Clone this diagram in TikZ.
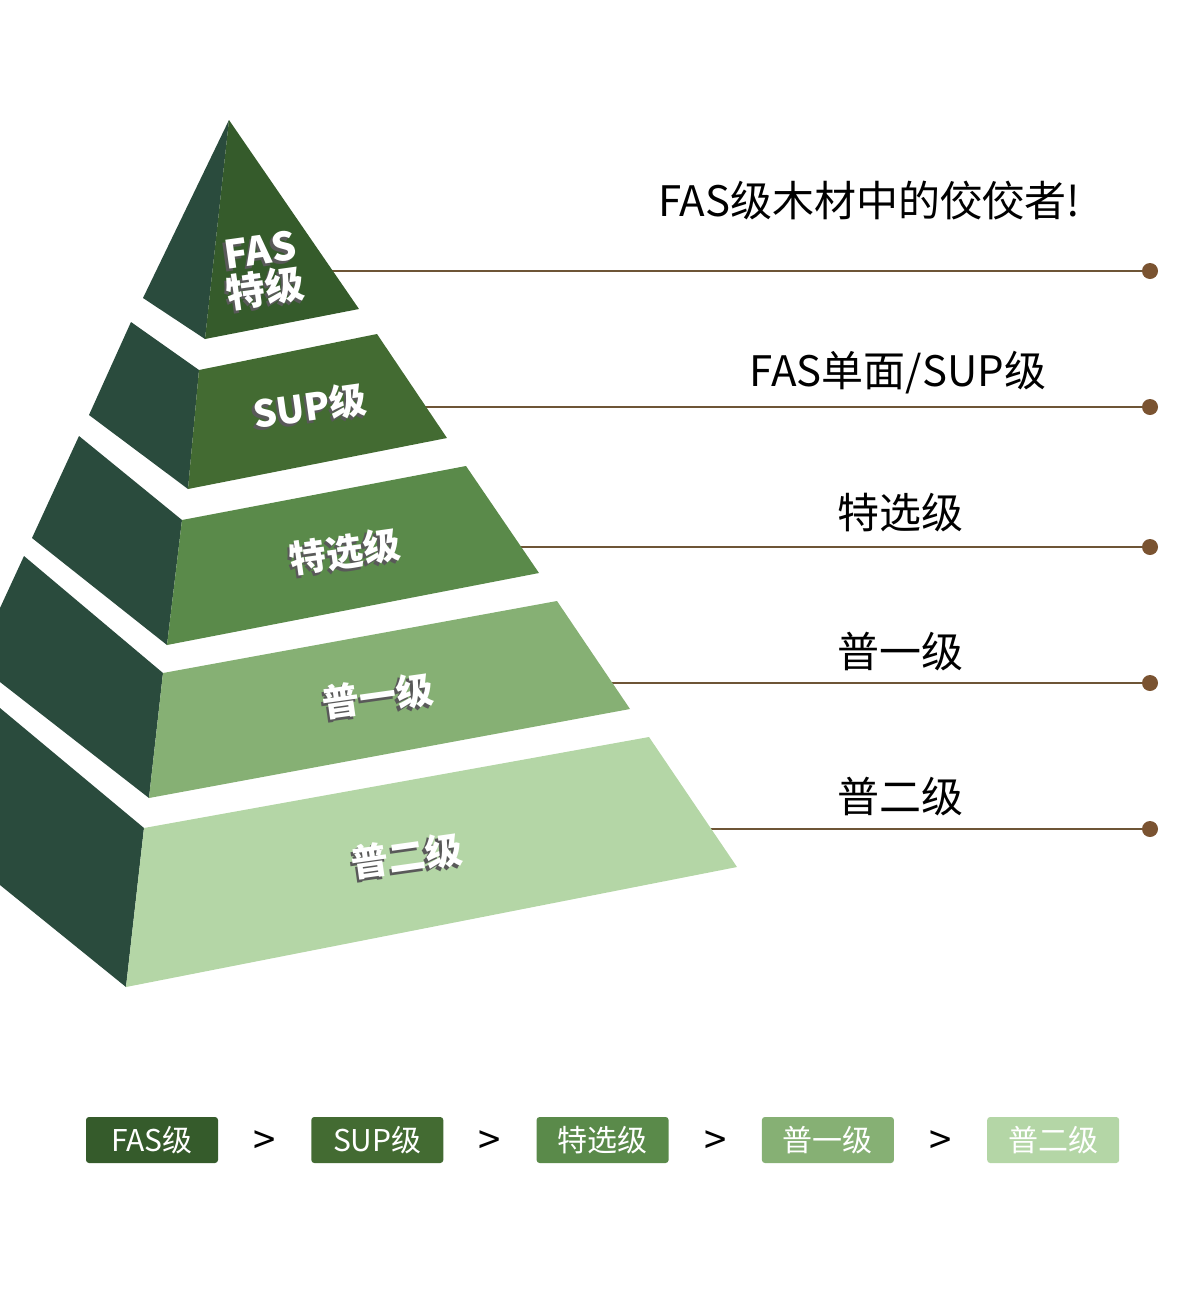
\documentclass[tikz,border=0pt]{standalone}
\usepackage{fontspec}
\setmainfont{Noto Sans CJK SC}
\usetikzlibrary{positioning, calc}

\definecolor{sidegreen}{HTML}{2A4B3D}
\definecolor{tierA}{HTML}{355B2B}
\definecolor{tierB}{HTML}{436B32}
\definecolor{tierC}{HTML}{5A8A4A}
\definecolor{tierD}{HTML}{86B074}
\definecolor{tierE}{HTML}{B4D6A6}
\definecolor{lineBrown}{HTML}{6E5536}
\definecolor{dotBrown}{HTML}{7A5331}

% white text with a dark drop shadow
\newcommand{\tiertext}[1]{\makebox[0pt][l]{\hspace{-1.3pt}\raisebox{-1.3pt}{\color{black!65}#1}}#1}

\begin{document}
\begin{tikzpicture}[
        x=0.5pt, y=-0.5pt,
        side/.style={fill=sidegreen},
        tierlabel/.style={text=white, rotate=8, align=center, inner sep=0pt, font=\bfseries\fontsize{18.5}{18}\selectfont},
        remark/.style={font=\fontsize{21}{24}\selectfont},
        dot/.style={circle, fill=dotBrown, inner sep=0pt, minimum size=8pt},
        leader/.style={draw=lineBrown, line width=0.7pt},
        gradebox/.style={rounded corners=1.5pt, minimum width=66pt, minimum height=23pt, inner sep=0pt, text=white, font=\fontsize{15}{18}\selectfont},
        gt/.style={font=\fontsize{20}{20}\selectfont, yshift=-1.5pt}
    ]
    \useasboundingbox (0,0) rectangle (1200,1291);

    % Leaders
    \coordinate (in1) at (300,271);
    \coordinate (in2) at (400,407);
    \coordinate (in3) at (480,547);
    \coordinate (in4) at (580,683);
    \coordinate (in5) at (690,829);
    \node [dot] (dot1) at (1150,271) {};
    \node [dot] (dot2) at (1150,407) {};
    \node [dot] (dot3) at (1150,547) {};
    \node [dot] (dot4) at (1150,683) {};
    \node [dot] (dot5) at (1150,829) {};
    \draw [leader] (in1) -- (dot1);
    \draw [leader] (in2) -- (dot2);
    \draw [leader] (in3) -- (dot3);
    \draw [leader] (in4) -- (dot4);
    \draw [leader] (in5) -- (dot5);

    % Pyramid
    \fill [side] (229,120) -- (205,339) -- (143,298) -- cycle;
    \fill [tierA] (229,120) -- (359,309) -- (205,339) -- cycle;
    \fill [side] (131,322) -- (199,370) -- (188,489) -- (89,415) -- cycle;
    \fill [tierB] (199,370) -- (377,334) -- (447,438) -- (188,489) -- cycle;
    \fill [side] (79,436) -- (182,520) -- (167,645) -- (32,538) -- cycle;
    \fill [tierC] (182,520) -- (466,466) -- (539,573) -- (167,645) -- cycle;
    \fill [side] (24,556) -- (163,673) -- (149,798) -- (0,682) -- (0,608) -- cycle;
    \fill [tierD] (163,673) -- (557,601) -- (630,709) -- (149,798) -- cycle;
    \fill [side] (0,708) -- (144,828) -- (126,987) -- (0,885) -- cycle;
    \fill [tierE] (144,828) -- (649,737) -- (737,867) -- (126,987) -- cycle;

    % Tier labels
    \node [tierlabel, font=\bfseries\fontsize{19.5}{17.5}\selectfont] (fas) at (263,272) {\tiertext{FAS}\\\tiertext{特级}};
    \node [tierlabel] (sup) at (310,408) {\tiertext{SUP级}};
    \node [tierlabel] (sel) at (345,553) {\tiertext{特选级}};
    \node [tierlabel] (one) at (378,697) {\tiertext{普一级}};
    \node [tierlabel] (two) at (407,857) {\tiertext{普二级}};

    % Remarks
    \node [remark] (r1) at (869,201) {FAS级木材中的佼佼者!};
    \node [remark] (r2) at (898,373) {FAS单面/SUP级};
    \node [remark] (r3) at (900,513) {特选级};
    \node [remark] (r4) at (900,652) {普一级};
    \node [remark] (r5) at (900,797) {普二级};

    % Ranking
    \node [gradebox, fill=tierA] (bfas) at (152,1140) {FAS级};
    \node [gradebox, fill=tierB, right=46.25pt of bfas] (bsup) {SUP级};
    \node [gradebox, fill=tierC, right=46.25pt of bsup] (bsel) {特选级};
    \node [gradebox, fill=tierD, right=46.25pt of bsel] (bone) {普一级};
    \node [gradebox, fill=tierE, right=46.25pt of bone] (btwo) {普二级};
    \node [gt] (gt1) at ($(bfas.east)!0.5!(bsup.west)$) {>};
    \node [gt] (gt2) at ($(bsup.east)!0.5!(bsel.west)$) {>};
    \node [gt] (gt3) at ($(bsel.east)!0.5!(bone.west)$) {>};
    \node [gt] (gt4) at ($(bone.east)!0.5!(btwo.west)$) {>};

\end{tikzpicture}
\end{document}
